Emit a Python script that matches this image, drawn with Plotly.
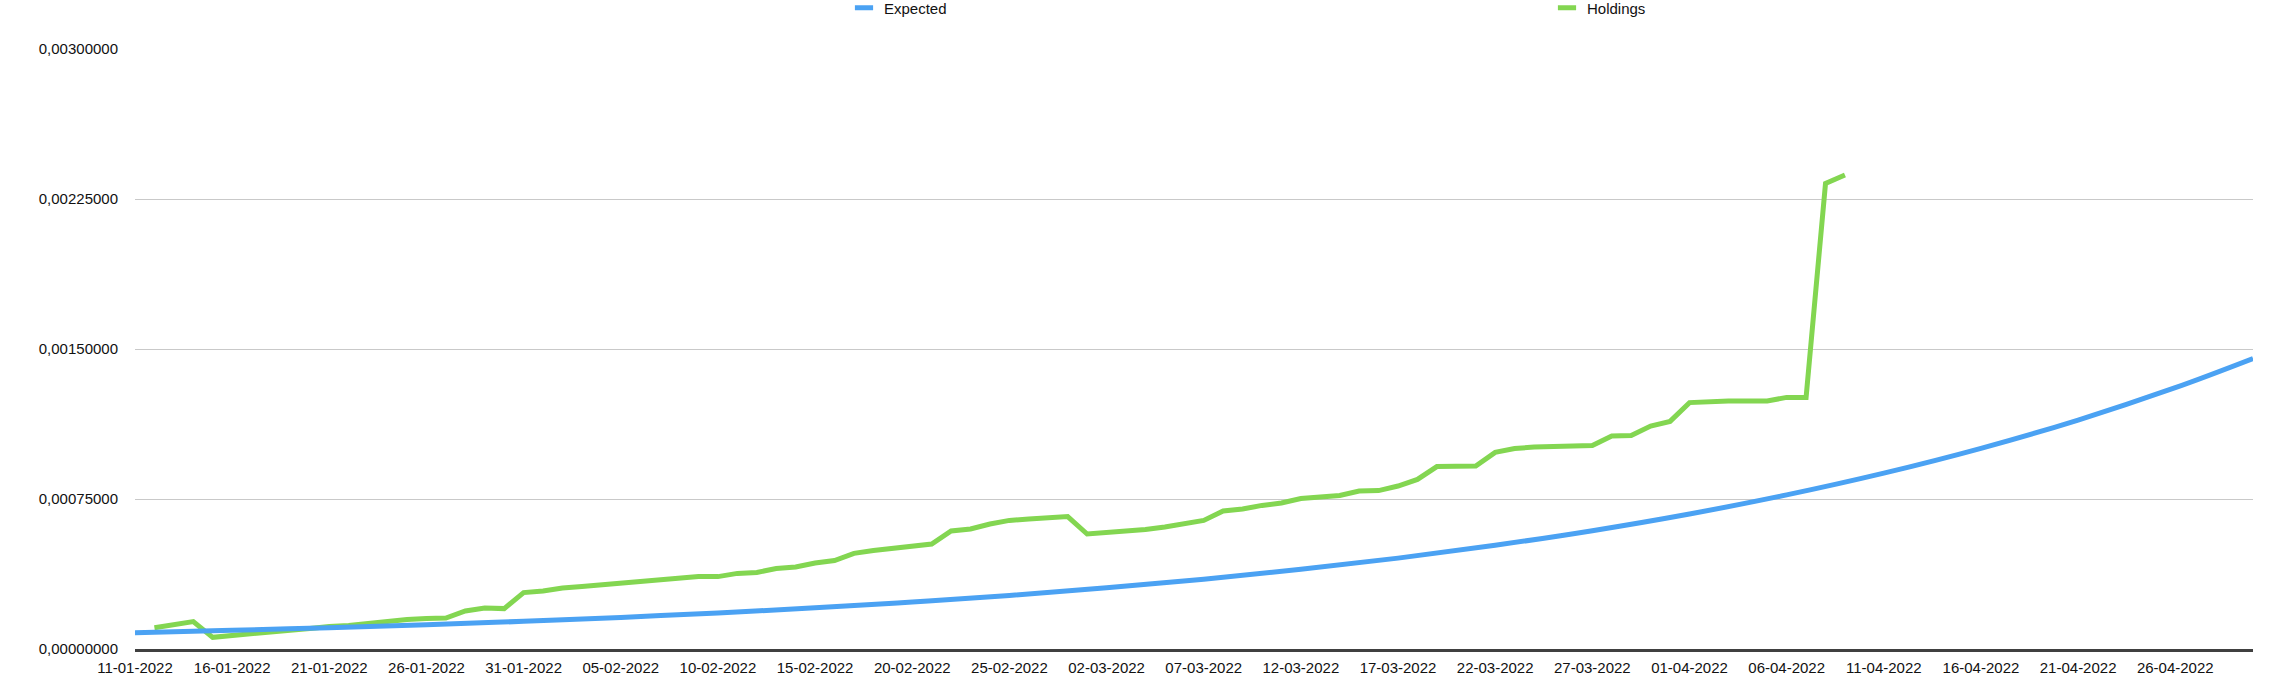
import pandas as pd
import plotly.graph_objects as go

# ---- data ----
tick_labels = ["11-01-2022", "16-01-2022", "21-01-2022", "26-01-2022", "31-01-2022",
               "05-02-2022", "10-02-2022", "15-02-2022", "20-02-2022", "25-02-2022",
               "02-03-2022", "07-03-2022", "12-03-2022", "17-03-2022", "22-03-2022",
               "27-03-2022", "01-04-2022", "06-04-2022", "11-04-2022", "16-04-2022",
               "21-04-2022", "26-04-2022"]

expected_dates = tick_labels + ["30-04-2022"]
expected_values = [0.0000817, 0.0000932, 0.0001064, 0.0001214, 0.0001385, 0.0001581,
                   0.0001804, 0.0002058, 0.0002349, 0.0002680, 0.0003058, 0.0003490,
                   0.0003982, 0.0004544, 0.0005186, 0.0005917, 0.0006752, 0.0007705,
                   0.0008792, 0.0010033, 0.0011449, 0.0013064, 0.0014521]

holdings_start = "12-01-2022"
holdings_values = [
    0.0001065, 0.000122, 0.000137, 0.0000583, 0.000066, 0.000075, 0.000084, 0.000093,
    0.000103, 0.000113, 0.000117, 0.000128, 0.000140, 0.000148, 0.000152, 0.000155,
    0.000190, 0.000205, 0.000202, 0.000282, 0.000290, 0.000305, 0.000312, 0.000320,
    0.000327, 0.000333, 0.000342, 0.000352, 0.000362, 0.000362, 0.000378, 0.000383,
    0.000402, 0.000410, 0.000430, 0.000442, 0.000478, 0.000492, 0.000502, 0.000515,
    0.000525, 0.000590, 0.000600, 0.000625, 0.000643, 0.000650, 0.000653, 0.000662,
    0.000575, 0.000583, 0.000585, 0.000598, 0.000610, 0.000627, 0.000643, 0.000690,
    0.000700, 0.000718, 0.000730, 0.000752, 0.000757, 0.000768, 0.000790, 0.000792,
    0.000815, 0.000848, 0.000912, 0.000912, 0.000915, 0.000983, 0.001002, 0.001010,
    0.001012, 0.001015, 0.001017, 0.001065, 0.001068, 0.001115, 0.001138, 0.001232,
    0.001237, 0.001240, 0.001240, 0.001240, 0.001258, 0.001258, 0.002328, 0.002370]

y_ticks = [0.0, 0.00075, 0.0015, 0.00225, 0.003]
y_tick_labels = ["0,00000000", "0,00075000", "0,00150000", "0,00225000", "0,00300000"]

# ---- build ----
fmt = "%d-%m-%Y"
exp_x = pd.to_datetime(expected_dates, format=fmt)
hold_x = pd.date_range(pd.to_datetime(holdings_start, format=fmt), periods=len(holdings_values), freq="D")
tick_x = pd.to_datetime(tick_labels, format=fmt)

BLUE = "#4BA2F3"
GREEN = "#83D651"
FONT = "Liberation Sans"

fig = go.Figure()
fig.add_trace(go.Scatter(x=hold_x, y=holdings_values, mode="lines", name="Holdings",
                         line=dict(color=GREEN, width=5, shape="linear"), showlegend=False))
fig.add_trace(go.Scatter(x=exp_x, y=expected_values, mode="lines", name="Expected",
                         line=dict(color=BLUE, width=5, shape="spline"), showlegend=False))
# legend entries (short bar symbols)
for nm, col in [("Expected", BLUE), ("Holdings", GREEN)]:
    fig.add_trace(go.Scatter(x=[None], y=[None], mode="markers", name=nm,
                             marker=dict(symbol="line-ew", size=13,
                                         line=dict(color=col, width=5))))

W, H = 2292, 694
ml, mr, mt, mb = 135, 39, 49, 45
pw = W - ml - mr
ph = H - mt - mb

fig.update_layout(
    width=W, height=H,
    margin=dict(l=ml, r=mr, t=mt, b=mb, autoexpand=False),
    paper_bgcolor="white", plot_bgcolor="white",
    font=dict(family=FONT, size=15, color="#111111"),
    showlegend=True,
    legend=dict(orientation="h", x=(844 - ml) / pw, xanchor="left",
                y=1 + (mt - 8) / ph, yanchor="middle",
                entrywidth=658, entrywidthmode="pixels",
                font=dict(family=FONT, size=15, color="#111111"),
                bgcolor="rgba(0,0,0,0)", borderwidth=0),
    xaxis=dict(type="date", range=[exp_x[0], exp_x[-1]],
               tickvals=tick_x, ticktext=tick_labels, tickangle=0,
               showgrid=False, zeroline=False,
               showline=True, linecolor="#404040", linewidth=2.5,
               ticks="", ticklabelstandoff=3,
               tickfont=dict(family=FONT, size=15, color="#111111")),
    yaxis=dict(range=[0, 0.003], tickvals=y_ticks, ticktext=y_tick_labels,
               showgrid=True, gridcolor="#C9C9C9", gridwidth=1,
               zeroline=False, showline=False, ticks="", ticklabelstandoff=16,
               tickfont=dict(family=FONT, size=15, color="#111111")),
)

fig.write_html("out.html", config={"displayModeBar": False},
               post_script="document.body.style.margin='0';document.body.style.overflow='hidden';")
